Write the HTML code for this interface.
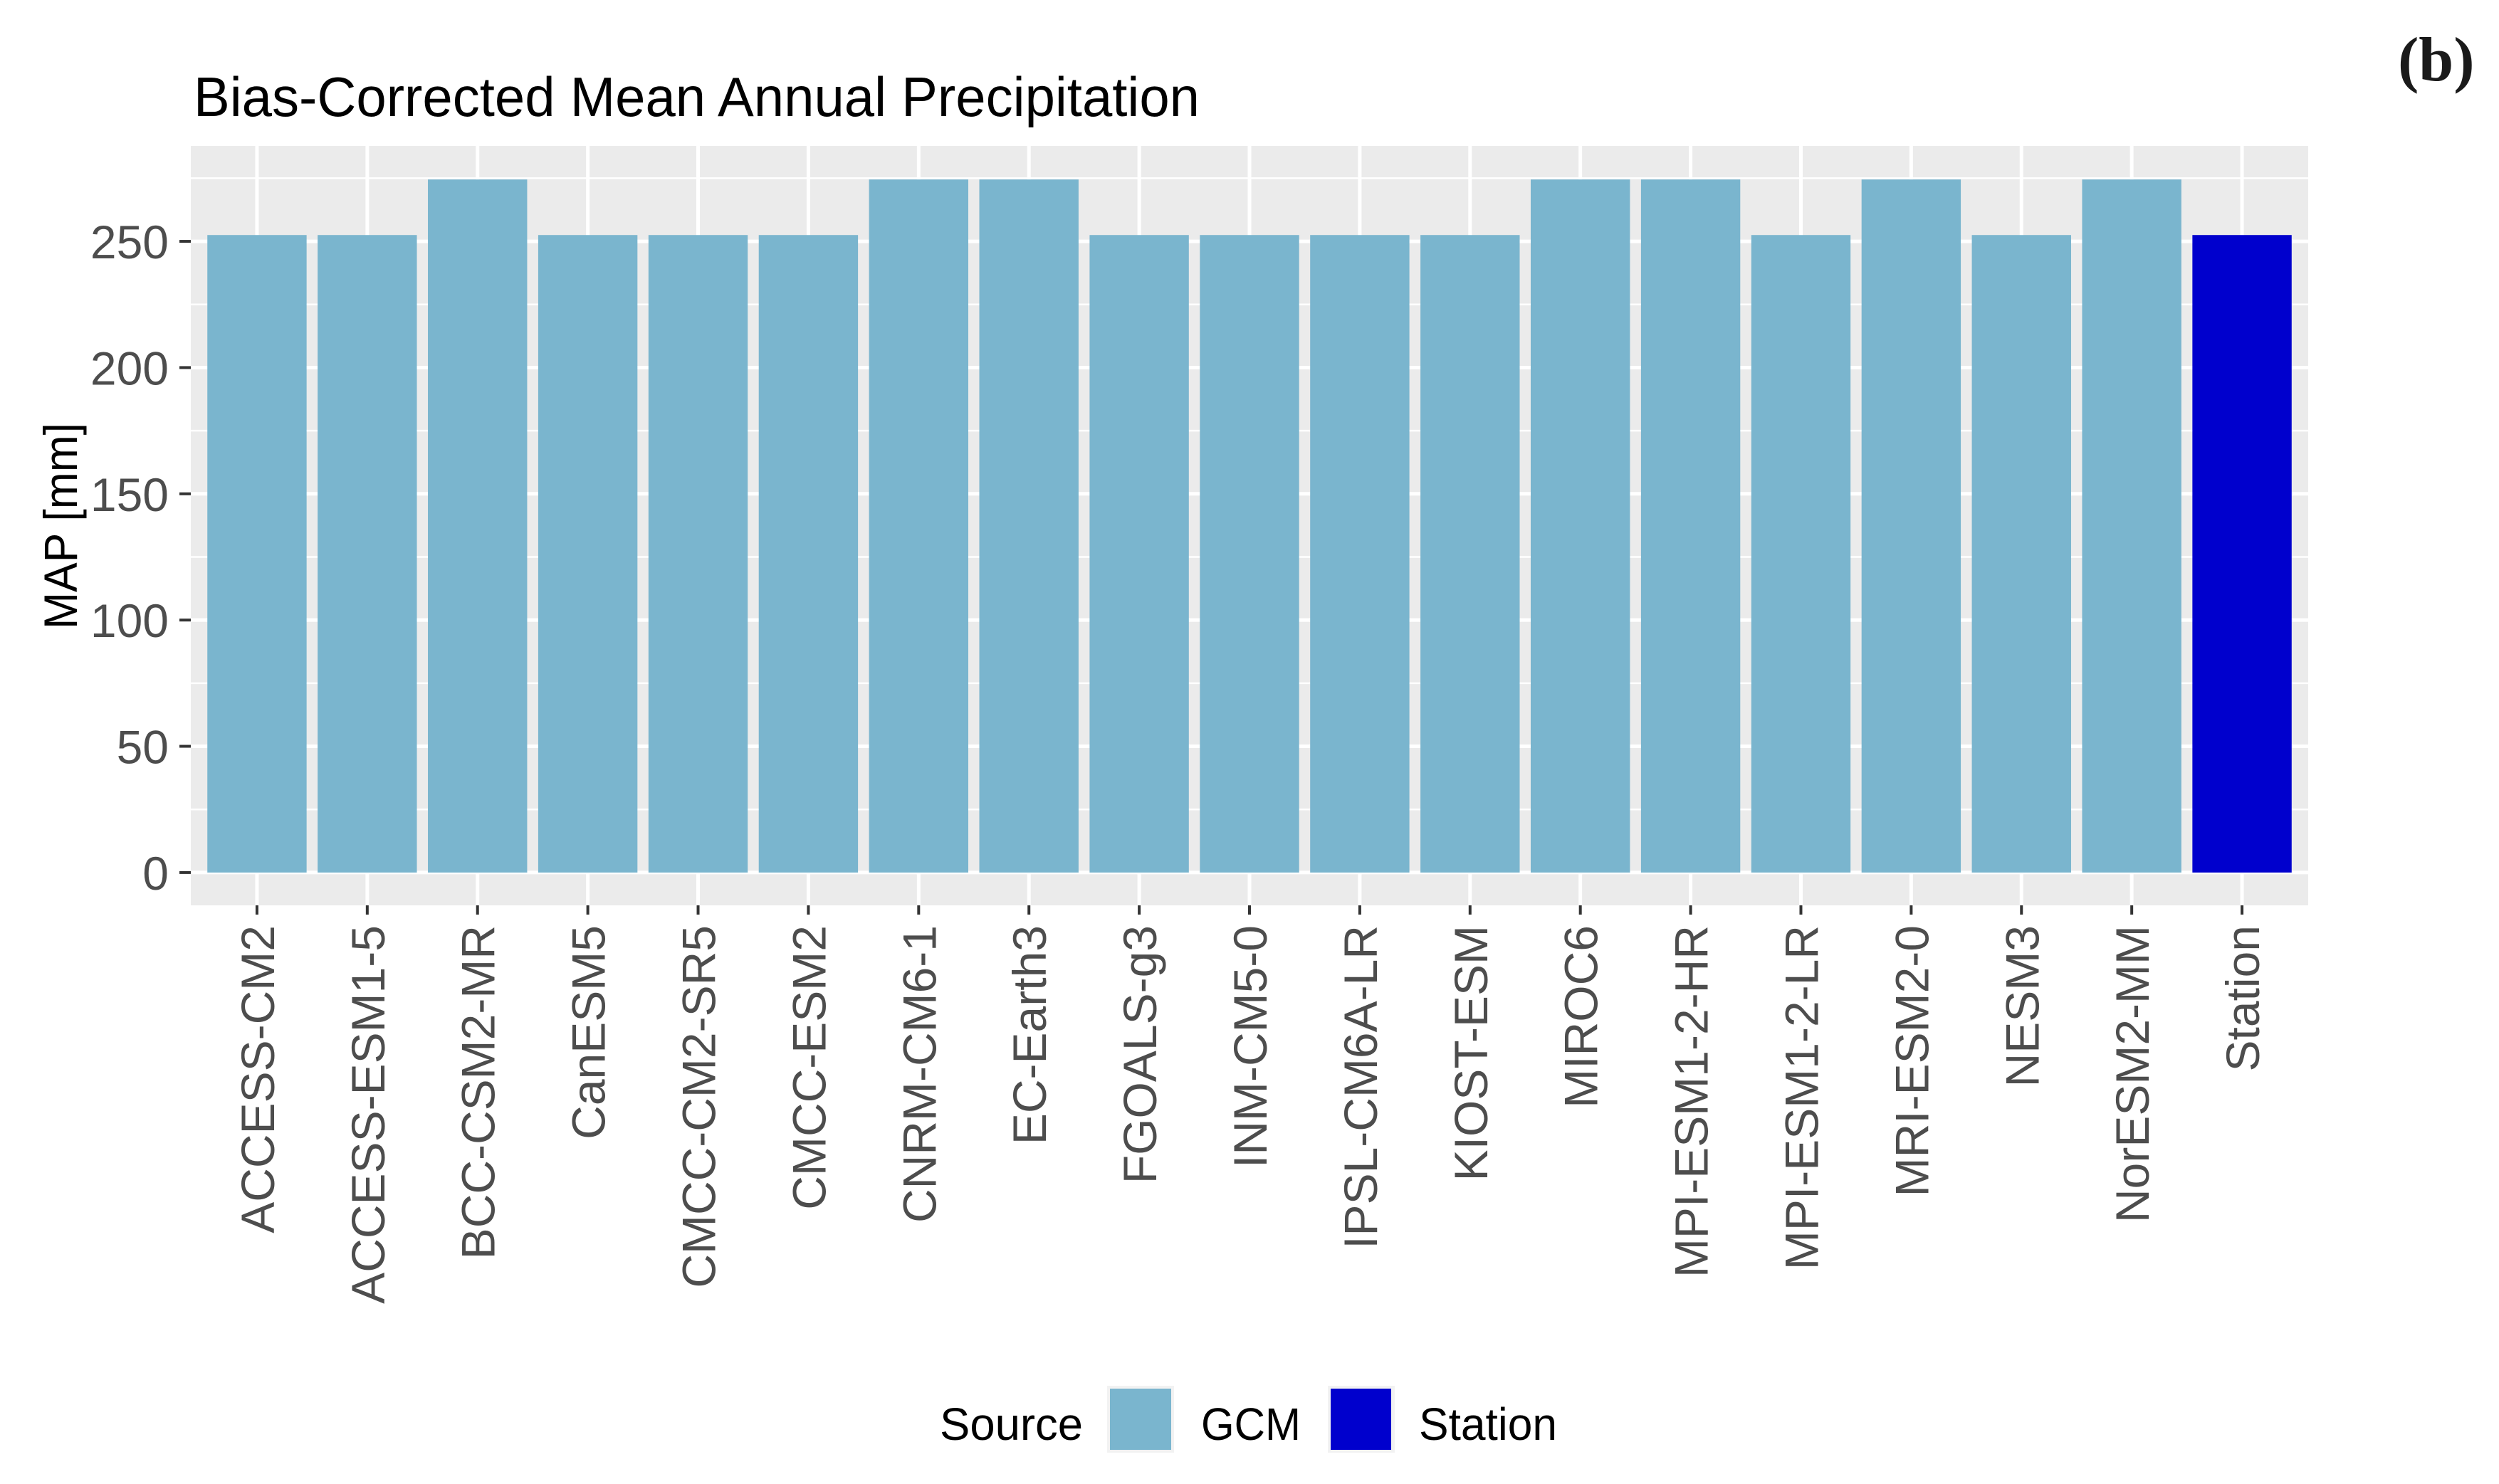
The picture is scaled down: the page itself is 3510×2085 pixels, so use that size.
<!DOCTYPE html>
<html><head><meta charset="utf-8"><style>
html,body{margin:0;padding:0;background:#fff;}
svg{display:block;}
</style></head><body>
<svg id="chart" width="3510" height="2085" viewBox="0 0 3510 2085" xmlns="http://www.w3.org/2000/svg" style="font-family:'Liberation Sans',Arial,sans-serif">
<rect x="0" y="0" width="3510" height="2085" fill="#fff"/>
<text x="3368" y="113" style="font-family:'Liberation Serif',serif;font-weight:bold" font-size="88" fill="#1a1a1a">(b)</text>
<text x="272" y="163" font-size="78" fill="#000" textLength="1413" lengthAdjust="spacingAndGlyphs">Bias-Corrected Mean Annual Precipitation</text>
<rect x="268" y="205" width="2974" height="1067" fill="#EBEBEB"/>
<g id="grid"></g>
<g id="bars"></g>
<g id="yaxis"></g>
<g id="xaxis"></g>
<text transform="translate(108,739) rotate(-90)" text-anchor="middle" font-size="66" fill="#000" textLength="290" lengthAdjust="spacingAndGlyphs">MAP [mm]</text>
<g>
<text x="1320" y="2023" font-size="64" fill="#000" textLength="201" lengthAdjust="spacingAndGlyphs">Source</text>
<rect x="1555" y="1947" width="94" height="94" fill="#F2F2F2"/>
<rect x="1559" y="1951" width="86" height="86" fill="#7AB5CE"/>
<text x="1687" y="2023" font-size="64" fill="#000" textLength="140" lengthAdjust="spacingAndGlyphs">GCM</text>
<rect x="1865" y="1947" width="94" height="94" fill="#F2F2F2"/>
<rect x="1869" y="1951" width="85" height="86" fill="#0000CD"/>
<text x="1993" y="2023" font-size="64" fill="#000" textLength="194" lengthAdjust="spacingAndGlyphs">Station</text>
</g>
</svg>
<script>
const categories = ["ACCESS-CM2","ACCESS-ESM1-5","BCC-CSM2-MR","CanESM5","CMCC-CM2-SR5","CMCC-ESM2","CNRM-CM6-1","EC-Earth3","FGOALS-g3","INM-CM5-0","IPSL-CM6A-LR","KIOST-ESM","MIROC6","MPI-ESM1-2-HR","MPI-ESM1-2-LR","MRI-ESM2-0","NESM3","NorESM2-MM","Station"];
const values = [252.5,252.5,274.5,252.5,252.5,252.5,274.5,274.5,252.5,252.5,252.5,252.5,274.5,274.5,252.5,274.5,252.5,274.5,252.5];
const sources = ["GCM","GCM","GCM","GCM","GCM","GCM","GCM","GCM","GCM","GCM","GCM","GCM","GCM","GCM","GCM","GCM","GCM","GCM","Station"];
const yTicks = [0,50,100,150,200,250];
const yMinor = [25,75,125,175,225,275];

const NS = "http://www.w3.org/2000/svg";
const PX0 = 268, PX1 = 3242, PY0 = 205, PY1 = 1272;
const yMin = -13, yMax = 287.8;
function yScale(v){ return PY1 - (v - yMin) / (yMax - yMin) * (PY1 - PY0); }
const step = (PX1 - PX0) / (categories.length - 1 + 1.2);
function xScale(i){ return PX0 + (i + 0.6) * step; }
const colors = {GCM:"#7AB5CE", Station:"#0000CD"};
function mk(tag, attrs, parent){ const e=document.createElementNS(NS,tag); for(const k in attrs) e.setAttribute(k,attrs[k]); parent.appendChild(e); return e; }

const grid = document.getElementById('grid');
yMinor.forEach(v=>{
  const l = mk('line',{x1:PX0,x2:PX1,y1:yScale(v),y2:yScale(v),stroke:'#fff','stroke-width':2.5},grid);
  
  
});
yTicks.forEach(v=>{
  const l = mk('line',{x1:PX0,x2:PX1,y1:yScale(v),y2:yScale(v),stroke:'#fff','stroke-width':5},grid);
  
  
});
categories.forEach((c,i)=>{
  const l = mk('line',{x1:xScale(i),x2:xScale(i),y1:PY0,y2:PY1,stroke:'#fff','stroke-width':5},grid);
  
  
});

const bars = document.getElementById('bars');
const bw = step * 0.9;
categories.forEach((c,i)=>{
  const y = yScale(values[i]), y0 = yScale(0);
  const r = mk('rect',{x:xScale(i)-bw/2,y:y,width:bw,height:y0-y,fill:colors[sources[i]]},bars);
  
  
});

const ya = document.getElementById('yaxis');
yTicks.forEach(v=>{
  const t = mk('line',{x1:252,x2:268,y1:yScale(v),y2:yScale(v),stroke:'#333','stroke-width':4},ya);
  
  
  const tx = mk('text',{x:237,y:yScale(v)+24,'text-anchor':'end','font-size':66,fill:'#4D4D4D'},ya);
  tx.textContent = v;
  
  
});

const xa = document.getElementById('xaxis');
categories.forEach((c,i)=>{
  const x = xScale(i);
  const t = mk('line',{x1:x,x2:x,y1:PY1,y2:PY1+13,stroke:'#333','stroke-width':4},xa);
  
  
  const tx = mk('text',{transform:'translate('+(x+24)+',1300) rotate(-90)','text-anchor':'end','font-size':66,fill:'#4D4D4D'},xa);
  tx.textContent = c;
  
  
});
</script>
</body></html>
